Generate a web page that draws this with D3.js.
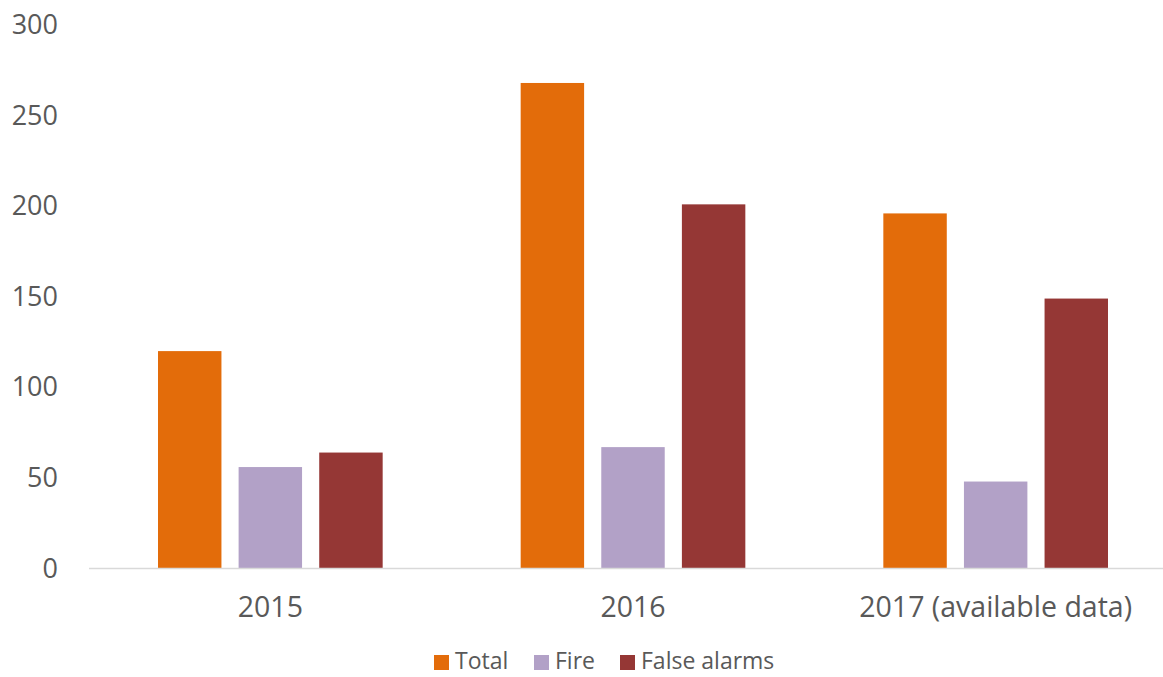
<!DOCTYPE html>
<html>
<head>
<meta charset="utf-8">
<script src="https://cdn.jsdelivr.net/npm/d3@7"></script>
<style>
  body { margin: 0; background: #fff; }
  text { font-family: 'Open Sans', sans-serif; fill: #595959; }
</style>
</head>
<body>
<div id="chart"></div>
<script>
const categories = ['2015', '2016', '2017 (available data)'];
const seriesNames = ['Total', 'Fire', 'False alarms'];
const totalValues = [120, 268, 196];
const fireValues = [56, 67, 48];
const falseAlarmValues = [64, 201, 149];
const yTicks = [0, 50, 100, 150, 200, 250, 300];
const colors = ['#e36c0a', '#b2a1c7', '#953735'];

const W = 1163, H = 677;
const margin = { top: 25, right: -14, bottom: 110, left: 89 };
const width = W - margin.left - margin.right;
const height = H - margin.top - margin.bottom + 1.5;

const svg = d3.select('#chart')
  .append('svg')
  .attr('width', W)
  .attr('height', H);

const g = svg.append('g')
  .attr('transform', `translate(${margin.left},${margin.top})`);

const x = d3.scaleBand().domain(categories).range([0, width]).padding(0);
const inner = d3.scaleBand().domain(seriesNames)
  .range([69, x.bandwidth() - 69]).paddingInner(0.213);
const y = d3.scaleLinear().domain([0, 300]).range([height, 0]);

const rows = categories.map((c, i) => ({
  cat: c,
  vals: [totalValues[i], fireValues[i], falseAlarmValues[i]]
}));

// bars
const groups = g.selectAll('g.grp')
  .data(rows)
  .join('g')
  .attr('class', 'grp')
  .attr('transform', d => `translate(${x(d.cat)},0)`);

groups.selectAll('rect')
  .data(d => d.vals.map((v, k) => ({ key: seriesNames[k], v, k })))
  .join('rect')
  .attr('x', d => inner(d.key))
  .attr('y', d => y(d.v))
  .attr('width', inner.bandwidth())
  .attr('height', d => y(0) - y(d.v))
  .attr('fill', d => colors[d.k]);

// baseline
g.append('line')
  .attr('x1', 0).attr('x2', W - margin.left)
  .attr('y1', y(0)).attr('y2', y(0))
  .attr('stroke', '#d9d9d9').attr('stroke-width', 1.5);

// y axis labels
const yAxis = g.append('g')
  .call(d3.axisLeft(y).tickValues(yTicks).tickSize(0).tickPadding(31));
yAxis.select('.domain').remove();
yAxis.selectAll('text')
  .style('font-size', '27px')
  .attr('fill', '#595959');

// x axis labels
const xAxis = g.append('g')
  .attr('transform', `translate(0,${y(0)})`)
  .call(d3.axisBottom(x).tickSize(0).tickPadding(28));
xAxis.select('.domain').remove();
xAxis.selectAll('text')
  .style('font-size', '28.5px')
  .attr('fill', '#595959');

// legend
const legendItems = [
  { name: 'Total', x: 434 },
  { name: 'Fire', x: 534 },
  { name: 'False alarms', x: 620 }
];
const legend = svg.append('g');
legendItems.forEach((it, i) => {
  legend.append('rect')
    .attr('x', it.x).attr('y', 655)
    .attr('width', 15).attr('height', 15)
    .attr('fill', colors[i]);
  legend.append('text')
    .attr('x', it.x + 21).attr('y', 661)
    .attr('dy', '0.35em')
    .style('font-size', '23px')
    .text(it.name);
});
</script>
</body>
</html>
